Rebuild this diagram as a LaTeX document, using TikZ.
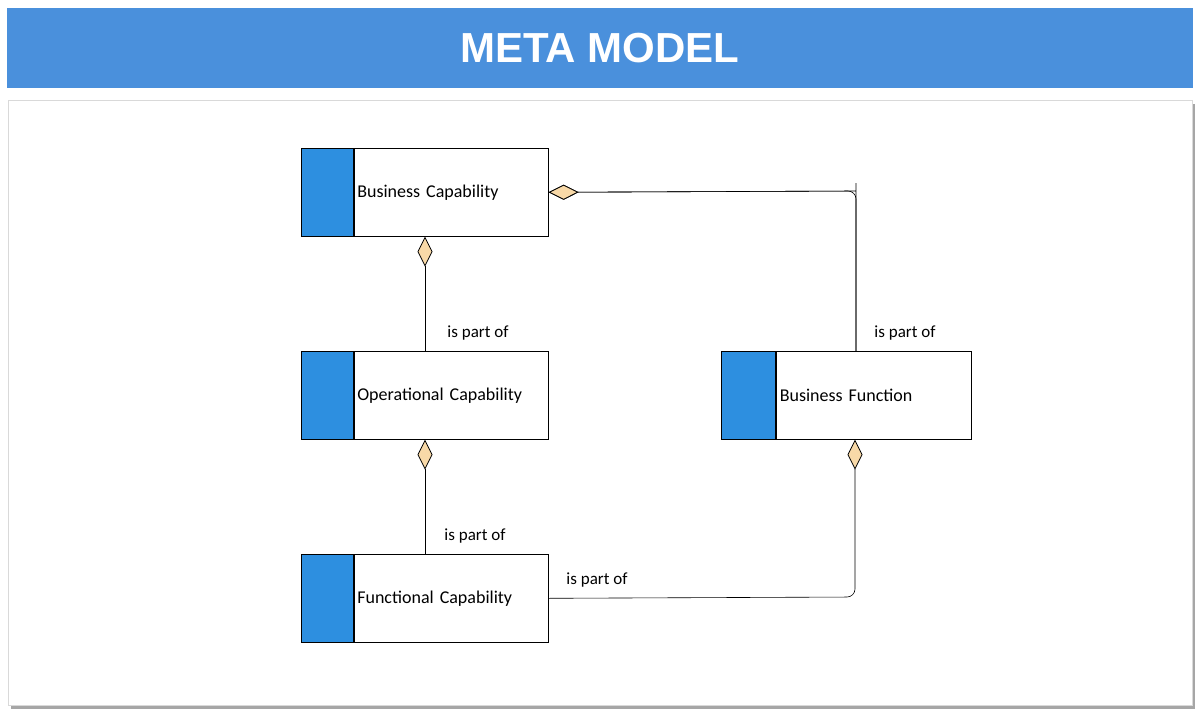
\documentclass[tikz,border=0pt]{standalone}
\usepackage{fontspec}
\setmainfont{Carlito}
\newfontfamily\titlefont{Liberation Sans}
\usetikzlibrary{arrows.meta,positioning}
\definecolor{barblue}{HTML}{4A90DC}
\definecolor{stripblue}{HTML}{2D8FE0}
\definecolor{diafill}{HTML}{F8D9A8}
\begin{document}
\begin{tikzpicture}[x=1pt,y=-1pt,semithick,
                    agg/.style={{Diamond[length=30pt,width=15pt,fill=diafill,line width=0.8pt]}-},
                    lbl/.style={font=\fontsize{17}{20}\selectfont,anchor=center}]
  \tikzstyle{box}=[draw=black,fill=white,minimum width=194pt,minimum height=88pt,
                   anchor=north west,align=left,text width=188pt,inner sep=3pt,
                   font=\fontsize{18}{21}\selectfont]
  \tikzstyle{strip}=[draw=black,fill=stripblue,minimum height=88pt,
                   anchor=north east,text=white,inner sep=0pt,
                   font=\fontsize{16}{19}\selectfont]

  \useasboundingbox (0,0) rectangle (1200,717);
  \fill[white] (0,0) rectangle (1200,717);
  % title bar
  \fill[barblue] (7,8) rectangle (1193,88);
  \node[text=white,font=\titlefont\bfseries\fontsize{42}{48}\selectfont] (title) at (600,48) {META MODEL};
  % panel with shadow
  \fill[black!35] (11,104) rectangle (1195,709);
  \draw[black!15,fill=white] (8,100) rectangle (1192,705);

  \node[box] (bc) at (354,148) {Business Capability};
  \node[box] (oc) at (354,351) {Operational Capability};
  \node[box] (fc) at (354,554) {Functional Capability};
  \node[box,minimum width=195pt] (bf) at (776,351) {Business Function};
  \node[strip,minimum width=52pt] (sbc) at (bc.north west) {};
  \node[strip,minimum width=52pt] (soc) at (oc.north west) {};
  \node[strip,minimum width=52pt] (sfc) at (fc.north west) {};
  \node[strip,minimum width=54pt] (sbf) at (bf.north west) {};
  \node[white,font=\fontsize{16}{19}\selectfont] at ([yshift=-16pt]sbc.south) {F21};
  \node[white,font=\fontsize{16}{19}\selectfont] at ([yshift=-16pt]soc.south) {F31};
  \node[white,font=\fontsize{16}{19}\selectfont] at ([yshift=-16pt]sfc.south) {F41};
  \node[white,font=\fontsize{16}{19}\selectfont] at ([yshift=-16pt]sbf.south) {F32};

  \coordinate (c1) at (856,191);
  \coordinate (c2) at (855,597);

  \draw[agg] (bc.east) -- (c1) [rounded corners=8pt] -- (c1) -- (bf.north -| c1);
  \draw[agg,rounded corners=8pt] (bc.east) -- (c1) -- (bf.north -| c1);
  \draw[agg] (bc.south -| 425,0) -- (oc.north -| 425,0);
  \draw[agg] (oc.south -| 425,0) -- (fc.north -| 425,0);
  \draw[agg,rounded corners=8pt] (bf.south -| c2) -- (c2) -- (fc.east);

  \node[lbl] at (478,333) {is part of};
  \node[lbl] at (905,333) {is part of};
  \node[lbl] at (475,536) {is part of};
  \node[lbl] at (597,580) {is part of};
\end{tikzpicture}
\end{document}
